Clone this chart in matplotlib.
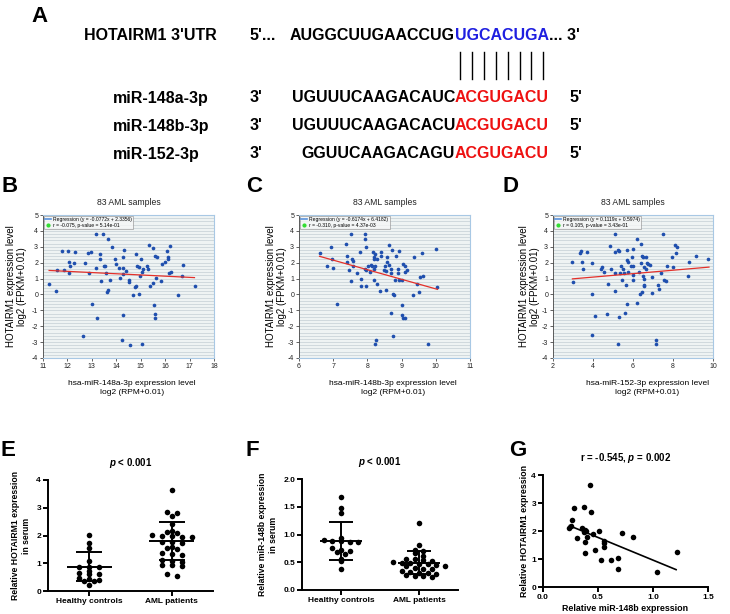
import numpy as np
import matplotlib
matplotlib.use("Agg")
import matplotlib.pyplot as plt
from matplotlib.lines import Line2D

plt.rcParams['font.family'] = ['Liberation Sans', 'DejaVu Sans']
plt.rcParams['mathtext.fontset'] = 'custom'
plt.rcParams['mathtext.it'] = 'Liberation Sans:italic:bold'
plt.rcParams['mathtext.rm'] = 'Liberation Sans:bold'
plt.rcParams['axes.unicode_minus'] = False

W, H = 730, 614

# ---- panel A: binding site ----
site_labels = ["HOTAIRM1 3'UTR", "miR-148a-3p", "miR-148b-3p", "miR-152-3p"]
seq_black = ["AUGGCUUGAACCUG", "UGUUUCAAGACAUC", "UGUUUCAAGACACU", "GGUUCAAGACAGU"]
seq_seed = ["UGCACUGA", "ACGUGACU", "ACGUGACU", "ACGUGACU"]
seed_colors = ["#1f1fe0", "#ee1111", "#ee1111", "#ee1111"]

# ---- panels B-D: TCGA correlation (83 AML samples) ----
b_x = [11.25, 11.53, 11.58, 11.76, 11.85, 12.03, 12.08, 12.10, 12.08, 12.25,
       12.32, 12.64, 12.71, 12.85, 12.90, 12.97, 12.99, 13.15, 13.17, 13.21,
       13.33, 13.33, 13.39, 13.44, 13.49, 13.54, 13.56, 13.60, 13.65, 13.68,
       13.75, 13.82, 13.96, 13.99, 14.11, 14.25, 14.26, 14.29, 14.31, 14.29,
       14.28, 14.40, 14.51, 14.53, 14.57, 14.68, 14.75, 14.81, 14.82, 14.86,
       14.92, 14.93, 14.96, 15.01, 15.05, 15.07, 15.08, 15.25, 15.31, 15.35,
       15.38, 15.49, 15.51, 15.54, 15.58, 15.58, 15.60, 15.63, 15.65, 15.83,
       15.86, 16.00, 16.08, 16.10, 16.11, 16.15, 16.18, 16.22, 16.53, 16.68,
       16.74, 17.21, 14.15]
b_y = [0.64, 0.20, 1.53, 2.73, 1.53, 2.71, 2.05, 1.76, 1.36, 1.95,
       2.64, -2.60, 2.00, 2.58, 1.36, 2.64, -0.60, 3.78, 1.69, -1.46,
       2.54, 2.26, 0.87, 3.78, 1.80, 1.80, 1.32, 0.14, 3.46, 0.26,
       0.94, 2.98, 2.26, 1.91, 1.65, -2.85, 1.69, 2.37, 2.79, 1.27,
       -1.32, 1.48, 0.90, 0.81, -3.17, -0.02, 0.47, 2.52, 0.56, 1.82,
       1.74, 0.05, 1.15, 2.22, 1.42, -3.13, 1.59, 1.80, 1.59, 3.10,
       0.52, 2.94, 0.73, -0.68, -1.21, -1.48, 2.43, 1.06, 2.37, 0.83,
       1.89, 2.05, 2.73, 2.26, 2.33, 1.36, 3.06, 1.42, -0.03, 1.13,
       1.84, 0.56, 1.06]
b_fit_x = [11.25, 17.2]
b_fit_y = [1.51, 1.06]

c_x = [6.60, 6.82, 6.94, 6.97, 7.00, 7.12, 7.36, 7.39, 7.39, 7.47,
       7.51, 7.51, 7.56, 7.59, 7.59, 7.69, 7.78, 7.80, 7.82, 7.92,
       7.92, 7.93, 7.95, 7.96, 7.97, 8.02, 8.09, 8.10, 8.14, 8.15,
       8.18, 8.19, 8.19, 8.21, 8.22, 8.23, 8.26, 8.29, 8.37, 8.40,
       8.40, 8.49, 8.51, 8.53, 8.55, 8.56, 8.58, 8.63, 8.63, 8.68,
       8.70, 8.69, 8.71, 8.74, 8.75, 8.79, 8.83, 8.89, 8.90, 8.92,
       8.92, 9.00, 9.00, 9.02, 9.03, 9.05, 9.09, 9.09, 9.16, 9.33,
       9.37, 9.44, 9.50, 9.54, 9.61, 9.64, 9.78, 10.01, 10.04, 9.09,
       8.80, 8.27, 8.19]
c_y = [2.58, 1.78, 3.00, 2.24, 1.69, -0.58, 3.15, 2.43, 2.03, 1.55,
       3.82, 0.83, 2.26, 2.09, 1.82, 1.38, 2.66, 0.96, 0.56, 3.82,
       3.48, 1.63, 1.53, 0.54, 3.00, 1.80, 1.42, 1.84, 1.76, 2.70,
       2.26, 0.90, 2.37, 2.54, -3.15, 1.80, -2.85, 0.68, 0.22, 2.64,
       2.39, 1.53, 1.76, 1.46, 0.26, 2.37, 2.05, 3.10, 1.84, 1.59,
       1.38, -1.19, 2.77, 0.05, -2.63, -0.01, 2.39, 1.57, 1.38, 0.90,
       2.75, -0.66, 0.90, -1.32, -1.46, 1.91, -1.46, 1.42, 1.55, -0.01,
       2.37, 0.64, 0.15, 1.07, 2.62, 1.19, -3.15, 2.85, 0.49, 1.80,
       0.90, 2.26, 1.59]
c_fit_x = [6.6, 10.05]
c_fit_y = [2.40, 0.32]

d_x = [2.97, 3.00, 3.35, 3.42, 3.45, 3.48, 3.72, 3.95, 3.97, 3.97,
       4.10, 4.40, 4.43, 4.55, 4.70, 4.73, 4.85, 4.90, 5.08, 5.12,
       5.12, 5.12, 5.27, 5.28, 5.25, 5.32, 5.38, 5.45, 5.52, 5.55,
       5.60, 5.65, 5.68, 5.72, 5.75, 5.75, 5.90, 5.95, 5.98, 5.98,
       6.02, 6.02, 6.18, 6.22, 6.30, 6.35, 6.40, 6.42, 6.43, 6.47,
       6.52, 6.55, 6.55, 6.57, 6.52, 6.57, 6.67, 6.70, 6.77, 6.85,
       6.95, 6.95, 7.17, 7.17, 7.27, 7.30, 7.42, 7.50, 7.55, 7.65,
       7.72, 7.93, 7.98, 8.12, 8.15, 8.22, 8.75, 8.78, 9.17, 9.75,
       5.70, 5.35, 6.67]
d_y = [2.05, 0.77, 2.58, 2.73, 2.07, 1.57, 2.66, -2.58, 0.01, 1.99,
       -1.35, 1.57, 1.74, 1.42, -1.23, 0.68, 3.04, 1.63, 0.24, 3.82,
       2.64, 1.38, -3.13, -1.44, 2.77, 2.71, 1.80, 0.94, 1.59, 1.36,
       -1.19, 0.58, -0.62, 2.77, 1.44, 2.03, 1.82, 2.37, 1.23, 0.90,
       2.83, 1.78, 3.50, -0.52, 1.42, 0.01, 3.15, 1.99, 0.18, 2.41,
       2.33, 0.96, 0.52, 0.58, 1.15, 1.72, 2.33, 1.95, 1.91, 1.84,
       1.11, 0.09, -2.85, -3.15, 0.58, 0.33, 1.36, 3.82, 0.90, 0.85,
       1.82, 2.37, 1.74, 3.10, 2.58, 2.98, 1.15, 2.05, 2.45, 2.26,
       2.14, 1.38, 1.63]
d_fit_x = [2.97, 9.8]
d_fit_y = [0.98, 1.72]

legend_b = ["Regression (y = -0.0772x + 2.3356)", "r = -0.075, p-value = 5.14e-01"]
legend_c = ["Regression (y = -0.6174x + 6.4182)", "r = -0.310, p-value = 4.37e-03"]
legend_d = ["Regression (y = 0.1119x + 0.5974)", "r = 0.105, p-value = 3.43e-01"]

# ---- panels E-F: serum expression ----
groups = ["Healthy controls", "AML patients"]
e_hc = [2.02, 1.73, 1.55, 1.07, 0.88, 0.88, 0.88, 0.72, 0.65, 0.63, 0.60,
        0.48, 0.42, 0.38, 0.36, 0.35, 0.22]
e_aml = [3.65, 2.86, 2.80, 2.69, 2.42, 2.18, 2.14, 2.10, 2.02, 2.00, 1.97,
         1.95, 1.93, 1.78, 1.75, 1.74, 1.58, 1.55, 1.52, 1.36, 1.33, 1.30,
         1.12, 1.08, 1.06, 0.95, 0.92, 0.90, 0.62, 0.55]
e_mean = [0.88, 1.80]
e_sd = [0.52, 0.70]

f_hc = [1.68, 1.48, 1.38, 0.94, 0.90, 0.89, 0.88, 0.87, 0.86, 0.75, 0.72,
        0.70, 0.68, 0.64, 0.56, 0.52, 0.37]
f_aml = [1.21, 0.81, 0.72, 0.70, 0.66, 0.62, 0.56, 0.55, 0.54, 0.53, 0.50,
         0.49, 0.48, 0.47, 0.46, 0.45, 0.44, 0.43, 0.40, 0.38, 0.37, 0.35,
         0.33, 0.31, 0.30, 0.29, 0.27, 0.26, 0.25, 0.24]
f_mean = [0.88, 0.49]
f_sd = [0.34, 0.21]

# ---- panel G: correlation in serum ----
g_x = [0.24, 0.25, 0.26, 0.28, 0.31, 0.35, 0.37, 0.37, 0.38, 0.38, 0.40,
       0.39, 0.43, 0.44, 0.45, 0.47, 0.51, 0.53, 0.55, 0.55, 0.55, 0.62,
       0.68, 0.68, 0.72, 0.82, 1.04, 1.22, 0.38]
g_y = [2.10, 2.18, 2.38, 2.81, 1.74, 2.12, 2.87, 1.95, 1.62, 1.22, 1.80,
       1.99, 3.65, 2.67, 1.89, 1.32, 2.01, 0.95, 1.44, 1.56, 1.65, 0.97,
       1.04, 0.63, 1.94, 1.77, 0.55, 1.25, 2.02]
g_fit_x = [0.24, 1.21]
g_fit_y = [2.19, 0.62]


def fpos(x, y):
    """pixel position -> figure fraction"""
    return x / W, 1 - y / H


def ftext(x, y, s, **kw):
    fx, fy = fpos(x, y)
    fig.text(fx, fy, s, **kw)


def axes_px(left, top, right, bottom):
    return fig.add_axes([left / W, 1 - bottom / H, (right - left) / W, (bottom - top) / H])


def corr_panel(ax, x, y, fx, fy, xlim, xticks, title, xlabel, leg, xlab_pos, ylab_x):
    ax.set_facecolor('#eef3f3')
    for v in np.arange(-4, 5.01, 0.2):
        ax.axhline(v, color='#c3cfd4', lw=0.5, zorder=0)
    ax.scatter(x, y, s=7, color='#1f4fae', linewidths=0, zorder=3)
    ax.plot(fx, fy, color='#e3302a', lw=0.9, zorder=4)
    ax.set_xlim(xlim)
    ax.set_ylim(-4, 5)
    ax.set_xticks(xticks)
    ax.set_yticks(range(-4, 6))
    ax.tick_params(labelsize=5, length=2, width=0.5, pad=1.5, colors='#222222')
    for side in ['top', 'right', 'bottom']:
        ax.spines[side].set_color('#a8c8e4')
        ax.spines[side].set_linewidth(0.8)
    ax.spines['left'].set_linestyle((0, (1, 1)))
    ax.spines['left'].set_color('#444444')
    ax.spines['left'].set_linewidth(0.6)
    handles = [Line2D([], [], color='#5b93dc', lw=1.2),
               Line2D([], [], marker='o', ls='', color='#33dd33', ms=2)]
    lg = ax.legend(handles, leg, loc='upper left', bbox_to_anchor=(0, 1), fontsize=3.6,
                   fancybox=False, edgecolor='#888888', borderpad=0.25, handlelength=1.3,
                   labelspacing=0.15, borderaxespad=0.1, handletextpad=0.4)
    lg.get_frame().set_facecolor('#f6f7f7')
    lg.get_frame().set_linewidth(0.5)
    ax.text(0.5, 1.09, title, transform=ax.transAxes, ha='center', va='center', fontsize=6.2,
            color='#222222')
    ax.text(xlab_pos, -0.21, xlabel, transform=ax.transAxes, ha='center', va='center',
            fontsize=6, linespacing=1.25)
    ax.set_ylabel("HOTAIRM1 expression level\nlog2 (FPKM+0.01)", fontsize=7, linespacing=1.15)
    ax.yaxis.set_label_coords(ylab_x, 0.5)


def swarm(vals, center, binw, step):
    vals = np.asarray(vals)
    xs = np.full(len(vals), float(center))
    bins = np.round(vals / binw)
    for b in np.unique(bins):
        idx = np.where(bins == b)[0]
        k = len(idx)
        xs[idx] = center + (np.arange(k) - (k - 1) / 2) * step
    return xs


def prism_axes(ax):
    for side in ['top', 'right']:
        ax.spines[side].set_visible(False)
    for side in ['left', 'bottom']:
        ax.spines[side].set_linewidth(1.4)
    ax.tick_params(width=1.4, length=3.5, labelsize=6, pad=1.5)
    for lab in ax.get_xticklabels() + ax.get_yticklabels():
        lab.set_fontweight('bold')


def dot_panel(ax, hc, aml, mean, sd, binw, step, ylim, yticks, ylabel, yfmt):
    for i, vals in enumerate([hc, aml]):
        ax.scatter(swarm(vals, i, binw, step), vals, s=16, color='black', linewidths=0, zorder=3)
        ax.hlines(mean[i], i - 0.27, i + 0.27, color='black', lw=1.4, zorder=4)
        ax.vlines(i, mean[i] - sd[i], mean[i] + sd[i], color='black', lw=1.4, zorder=4)
        ax.hlines([mean[i] - sd[i], mean[i] + sd[i]], i - 0.16, i + 0.16, color='black',
                  lw=1.4, zorder=4)
    ax.set_xlim(-0.5, 1.5)
    ax.set_ylim(ylim)
    ax.set_xticks([0, 1])
    ax.set_xticklabels(groups)
    ax.set_yticks(yticks)
    ax.set_yticklabels([yfmt.format(v) for v in yticks])
    ax.set_ylabel(ylabel, fontsize=6.2, fontweight='bold', linespacing=1.3)
    prism_axes(ax)
    ax.set_title(r"$p$ < 0.001", fontsize=7, fontweight='bold', pad=10)


fig = plt.figure(figsize=(7.3, 6.14), dpi=100)

# panel A
row_y = [35, 98, 126, 154]
label_x = [84, 113, 113, 113]
for i in range(4):
    ftext(label_x[i], row_y[i], site_labels[i], fontsize=11.5, fontweight='bold',
          ha='left', va='center')
    ftext(250, row_y[i], "5'..." if i == 0 else "3'", fontsize=11.5, fontweight='bold',
          ha='left', va='center')
    ftext(455, row_y[i], seq_black[i], fontsize=11.5, fontweight='bold', ha='right', va='center')
    ftext(455, row_y[i], seq_seed[i], fontsize=11.5, fontweight='bold', ha='left', va='center',
          color=seed_colors[i])
    if i == 0:
        ftext(549, row_y[i], "... 3'", fontsize=11.5, fontweight='bold', ha='left', va='center')
    else:
        ftext(570, row_y[i], "5'", fontsize=11.5, fontweight='bold', ha='left', va='center')
for k in range(len(seq_seed[0])):
    bx = 460 + k * 11.9
    (x0, y0), (x1, y1) = fpos(bx, 52), fpos(bx, 79)
    fig.add_artist(Line2D([x0, x1], [y0, y1], transform=fig.transFigure, color='black', lw=1))

# panels B-D
ax_b = axes_px(43, 215, 214, 358)
corr_panel(ax_b, b_x, b_y, b_fit_x, b_fit_y, (11, 18), range(11, 19), "83 AML samples",
           "hsa-miR-148a-3p expression level\nlog2 (RPM+0.01)", legend_b, 0.52, -0.095)
ax_c = axes_px(299, 215, 470, 358)
corr_panel(ax_c, c_x, c_y, c_fit_x, c_fit_y, (6, 11), range(6, 12), "83 AML samples",
           "hsa-miR-148b-3p expression level\nlog2 (RPM+0.01)", legend_c, 0.55, -0.07)
ax_d = axes_px(553, 215, 713, 358)
corr_panel(ax_d, d_x, d_y, d_fit_x, d_fit_y, (2, 10), range(2, 11, 2), "83 AML samples",
           "hsa-miR-152-3p expression level\nlog2 (RPM+0.01)", legend_d, 0.59, -0.08)

# panels E-F
ax_e = axes_px(48, 480, 213, 591)
dot_panel(ax_e, e_hc, e_aml, e_mean, e_sd, 0.15, 0.12, (0, 4), [0, 1, 2, 3, 4],
          "Relative HOTAIRM1 expression\nin serum", "{:.0f}")
ax_f = axes_px(302, 479, 458, 590)
dot_panel(ax_f, f_hc, f_aml, f_mean, f_sd, 0.08, 0.11, (0, 2), [0, 0.5, 1.0, 1.5, 2.0],
          "Relative miR-148b expression\nin serum", "{:.1f}")

# panel G
ax_g = axes_px(543, 475, 708, 587)
ax_g.scatter(g_x, g_y, s=16, color='black', linewidths=0, zorder=3)
ax_g.plot(g_fit_x, g_fit_y, color='black', lw=1.2)
ax_g.set_xlim(0, 1.5)
ax_g.set_ylim(0, 4)
ax_g.set_xticks([0, 0.5, 1.0, 1.5])
ax_g.set_xticklabels(["0.0", "0.5", "1.0", "1.5"])
ax_g.set_yticks([0, 1, 2, 3, 4])
ax_g.set_xlabel("Relative miR-148b expression", fontsize=6.4, fontweight='bold', labelpad=2)
ax_g.set_ylabel("Relative HOTAIRM1 expression", fontsize=6.4, fontweight='bold', labelpad=2)
prism_axes(ax_g)
ax_g.set_title(r"r = -0.545, $p$ = 0.002", fontsize=7, fontweight='bold', pad=10)

# panel letters
for letter, (lx, ly) in zip("ABCDEFG", [(40, 16), (10, 187), (254, 187), (511, 187),
                                          (8, 450), (252, 450), (518, 450)]):
    ftext(lx, ly, letter, fontsize=16, fontweight='bold', ha='center', va='center')

fig.savefig("out.png", dpi=100)
